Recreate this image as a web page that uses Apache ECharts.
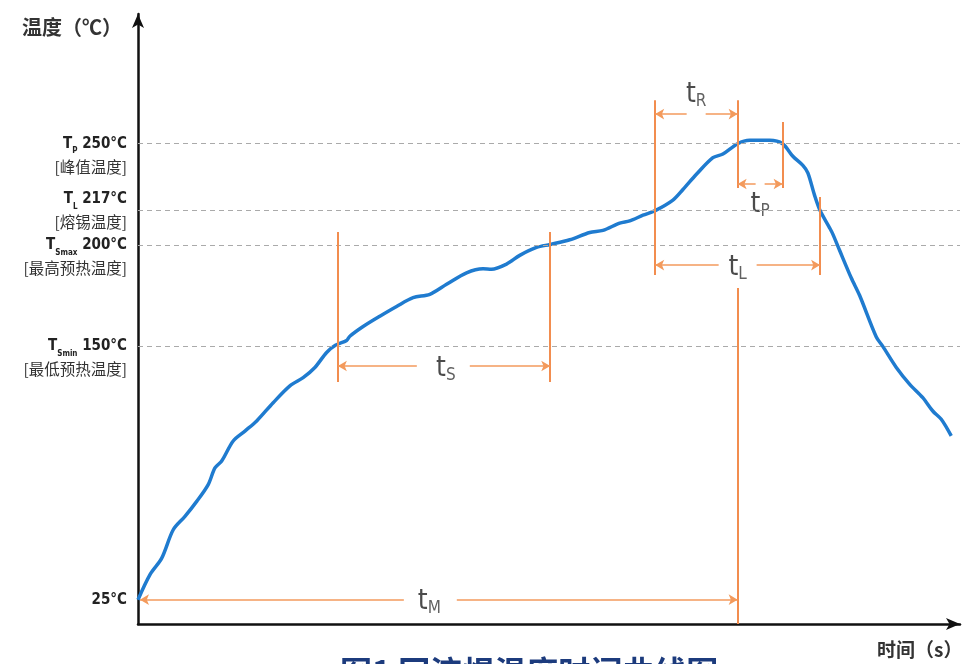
<!DOCTYPE html>
<html>
<head>
<meta charset="UTF-8">
<title>回流焊温度曲线</title>
<script src="https://cdn.jsdelivr.net/npm/echarts@6/dist/echarts.min.js"></script>
<style>
    html, body { margin: 0; padding: 0; background: #fff; }
    #chart { width: 974px; height: 664px; }
</style>
</head>
<body>
<div id="chart"></div>
<script type="text/javascript">
    // 温度曲线: 时间(s) / 温度(℃)
    var curveTime = [0, 4.8, 9.5, 14.1, 18.8, 23.5, 28.1, 30.8, 33.5, 38.1, 42.8, 47.5, 54.1, 60.8, 66.1, 70.8, 75.5, 79,
        83.5, 84.8, 90.1, 96.8, 103.5, 110.1, 116.8, 123.5, 131.5, 138.1, 141.5, 147.5, 152.8, 159.5, 165,
        172.8, 180.8, 186.1, 192.8, 196.8, 202.1, 207, 214.1, 218.1, 223.5, 230.1, 234.1, 240, 244.8, 252.8, 258,
        262.1, 266.1, 268.1, 270.8, 273, 276.8, 278.1, 280.8, 285.5, 288.8, 295.5, 298.1, 303.5, 308.8, 314.1,
        318.1, 321.5, 325.5];
    var curveTemp = [25, 37.4, 45.5, 59.5, 66.1, 73.5, 81.8, 90.0, 93.4, 103.3, 108.2, 113.2, 122.2, 130.5, 134.6, 139.6, 147.0, 150.5,
        152.9, 155.0, 159.8, 164.9, 169.7, 174.0, 175.7, 180.6, 186.3, 188.3, 188.0, 190.6, 194.9, 198.8, 200.3,
        202.6, 206.2, 207.2, 210.8, 211.9, 214.7, 217, 222.2, 227.4, 234.9, 243.1, 244.9, 250, 251.7, 251.7, 250,
        243.8, 239.3, 235.6, 224.5, 217, 208.5, 205.4, 197.4, 183.7, 175.2, 154.6, 150, 139.6, 131.4, 124.7,
        118.1, 114.0, 105.8];

    // y轴刻度
    var yTicks = [25, 150, 200, 217, 250];
    var yTickSub = ['', 'Smin', 'Smax', 'L', 'P'];
    var yTickNote = ['', '最低预热温度', '最高预热温度', '熔锡温度', '峰值温度'];

    // 橙色竖线
    var vLineTime = [80, 165, 207, 240, 258, 273, 240];
    var vLineFrom = [132.4, 132.4, 185.2, 228.1, 228.1, 185.2, 13];
    var vLineTo = [206.4, 206.4, 271.5, 271.5, 260.7, 223.7, 178.8];

    // 时间段箭头 tS tR tP tL tM
    var spanName = ['S', 'R', 'P', 'L', 'M'];
    var spanTemp = [140.3, 264.6, 230.1, 190.1, 25];
    var spanStart = [80, 207, 240, 207, 0.8];
    var spanGapL = [111.6, 219.6, 247.2, 232.4, 106.4];
    var spanGapR = [132.8, 227.2, 250.8, 247.6, 127.6];
    var spanEnd = [165, 240, 258, 273, 240];
    var spanLabelTime = [123.2, 223.4, 249.0, 240.0, 116.6];
    var spanLabelTemp = [139, 274, 219.7, 188.6, 24];

    var orange = '#f28d4f';
    var narrow = "'Liberation Sans Narrow', 'Arial Narrow', 'DejaVu Sans Condensed', sans-serif";
    var cjk = "'Noto Sans CJK SC', sans-serif";

    var curveData = [];
    for (var i = 0; i < curveTime.length; i++) {
        curveData.push([curveTime[i], curveTemp[i]]);
    }

    var vLines = [];
    for (var i = 0; i < vLineTime.length; i++) {
        vLines.push([{coord: [vLineTime[i], vLineFrom[i]]}, {coord: [vLineTime[i], vLineTo[i]]}]);
    }

    var arrows = [];
    for (var i = 0; i < spanName.length; i++) {
        arrows.push([{coord: [spanStart[i], spanTemp[i]], symbol: 'arrow'}, {coord: [spanGapL[i], spanTemp[i]], symbol: 'none'}]);
        arrows.push([{coord: [spanGapR[i], spanTemp[i]], symbol: 'none'}, {coord: [spanEnd[i], spanTemp[i]], symbol: 'arrow'}]);
    }

    var spanLabels = [];
    for (var i = 0; i < spanName.length; i++) {
        spanLabels.push([spanLabelTime[i], spanLabelTemp[i], spanName[i]]);
    }

    var guideLines = [];
    for (var i = 1; i < yTicks.length; i++) {
        guideLines.push({yAxis: yTicks[i]});
    }

    var chart = echarts.init(document.getElementById('chart'));
    var option = {
        animation: false,
        backgroundColor: '#fff',
        grid: {left: 138, right: 14, top: 14, bottom: 40},
        xAxis: {
            type: 'value',
            min: 0,
            max: 329,
            splitLine: {show: false},
            axisTick: {show: false},
            axisLabel: {show: false},
            axisLine: {show: true, symbol: ['none', 'arrow'], symbolSize: [9, 14], lineStyle: {color: '#111', width: 2.5}}
        },
        yAxis: {
            type: 'value',
            min: 13,
            max: 314,
            splitLine: {show: false},
            axisTick: {show: false},
            axisLine: {show: true, symbol: ['none', 'arrow'], symbolSize: [9, 14], lineStyle: {color: '#111', width: 2.5}},
            axisLabel: {
                customValues: yTicks,
                margin: 11,
                lineHeight: 23,
                fontSize: 14,
                formatter: function (v) {
                    var k = yTicks.indexOf(v);
                    if (!yTickSub[k]) {
                        return '{v|' + v + '°C}';
                    }
                    var head = '{T|T}{s|' + yTickSub[k] + '}{v| ' + v + '°C}';
                    var note = '{c|[' + yTickNote[k] + ']}';
                    if (v === 217) {
                        return head + '\n' + note;
                    }
                    return '\n' + head + '\n' + note;
                },
                rich: {
                    T: {fontFamily: narrow, fontSize: 15, fontWeight: 'bold', color: '#222', lineHeight: 23},
                    s: {fontFamily: narrow, fontSize: 8, fontWeight: 'bold', color: '#222', lineHeight: 15, verticalAlign: 'bottom'},
                    v: {fontFamily: narrow, fontSize: 15, fontWeight: 'bold', color: '#222', lineHeight: 23},
                    c: {fontFamily: cjk, fontSize: 15.5, color: '#333', lineHeight: 23}
                }
            }
        },
        graphic: [
            {type: 'text', left: 22, top: 17, style: {text: '温度（℃）', fontFamily: cjk, fontSize: 20, fontWeight: 'bold', fill: '#333'}},
            {type: 'text', left: 877, top: 640, style: {text: '时间（s）', fontFamily: cjk, fontSize: 19, fontWeight: 'bold', fill: '#333'}},
            {type: 'text', left: 340, top: 656, style: {text: '图1 回流焊温度时间曲线图', fontFamily: cjk, fontSize: 32, fontWeight: 'bold', fill: '#1c3b7d'}}
        ],
        series: [
            {
                name: 'guide',
                type: 'line',
                data: [],
                z: 1,
                markLine: {
                    silent: true,
                    symbol: 'none',
                    label: {show: false},
                    lineStyle: {type: [5, 4], color: '#aaa', width: 1},
                    data: guideLines
                }
            },
            {
                name: 'vlines',
                type: 'line',
                data: [],
                z: 2,
                markLine: {
                    silent: true,
                    symbol: 'none',
                    label: {show: false},
                    lineStyle: {type: 'solid', color: orange, width: 2},
                    data: vLines
                }
            },
            {
                name: 'arrows',
                type: 'line',
                data: [],
                z: 2,
                markLine: {
                    silent: true,
                    symbol: 'none',
                    symbolSize: [8, 9],
                    label: {show: false},
                    lineStyle: {type: 'solid', color: '#f39a5c', width: 1.5},
                    data: arrows
                }
            },
            {
                name: '温度',
                type: 'line',
                data: curveData,
                z: 3,
                smooth: 0.3,
                showSymbol: false,
                lineStyle: {color: '#1f7bcf', width: 3.5}
            },
            {
                name: 'labels',
                type: 'scatter',
                data: spanLabels,
                z: 4,
                symbolSize: 0,
                silent: true,
                label: {
                    show: true,
                    position: 'inside',
                    formatter: function (p) {
                        return '{t|t}{s|' + p.value[2] + '}';
                    },
                    rich: {
                        t: {fontFamily: narrow, fontSize: 28, color: '#1e1e1e', lineHeight: 30},
                        s: {fontFamily: narrow, fontSize: 17, color: '#3a3a3a', lineHeight: 20, verticalAlign: 'bottom'}
                    }
                }
            }
        ]
    };
    chart.setOption(option);
</script>
</body>
</html>
